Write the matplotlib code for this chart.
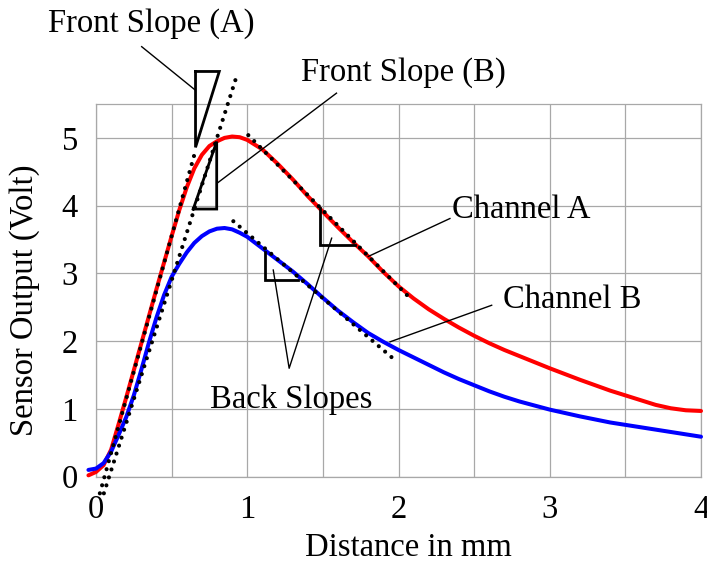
import matplotlib
matplotlib.use("Agg")
import matplotlib.pyplot as plt

plt.rcParams['font.family'] = ['Liberation Serif', 'DejaVu Serif']

# ---- data ----
x_red = [-0.05, 0.0, 0.05, 0.1, 0.15, 0.2, 0.25, 0.3, 0.35, 0.4, 0.45, 0.5, 0.55, 0.6,
         0.65, 0.7, 0.75, 0.8, 0.85, 0.9, 0.95, 1.0, 1.1, 1.2, 1.3, 1.4, 1.5, 1.6, 1.7,
         1.8, 1.9, 2.0, 2.1, 2.2, 2.3, 2.4, 2.5, 2.6, 2.7, 2.8, 2.9, 3.0, 3.2, 3.4, 3.6,
         3.7, 3.8, 3.9, 4.0]
y_red = [0.02, 0.07, 0.17, 0.40, 0.78, 1.17, 1.57, 1.97, 2.37, 2.77, 3.16, 3.55, 3.93, 4.27,
         4.55, 4.75, 4.88, 4.95, 5.00, 5.02, 5.01, 4.97, 4.83, 4.62, 4.39, 4.14, 3.91, 3.68, 3.46,
         3.25, 3.02, 2.81, 2.63, 2.47, 2.33, 2.20, 2.08, 1.97, 1.87, 1.78, 1.69, 1.60, 1.43, 1.27,
         1.13, 1.06, 1.01, 0.98, 0.97]

x_blue = [-0.05, 0.0, 0.05, 0.1, 0.15, 0.2, 0.25, 0.3, 0.35, 0.4, 0.45, 0.5, 0.55, 0.6,
          0.65, 0.7, 0.75, 0.8, 0.85, 0.9, 0.95, 1.0, 1.1, 1.2, 1.3, 1.4, 1.5, 1.6, 1.7,
          1.8, 1.9, 2.0, 2.1, 2.2, 2.3, 2.4, 2.5, 2.6, 2.7, 2.8, 2.9, 3.0, 3.2, 3.4, 3.6, 3.8, 4.0]
y_blue = [0.10, 0.12, 0.20, 0.37, 0.62, 0.88, 1.20, 1.58, 1.98, 2.35, 2.68, 2.95, 3.14, 3.31,
          3.45, 3.55, 3.62, 3.66, 3.67, 3.65, 3.60, 3.54, 3.37, 3.20, 3.03, 2.84, 2.64, 2.45, 2.28,
          2.12, 1.99, 1.87, 1.76, 1.65, 1.54, 1.44, 1.35, 1.26, 1.18, 1.11, 1.05, 0.99, 0.89, 0.80,
          0.73, 0.66, 0.59]

# tangent (dotted) lines: endpoints
front_a_x = [0.0255, 0.655]
front_a_y = [-0.245, 4.79]
front_b_x = [0.052, 0.934]
front_b_y = [-0.245, 5.94]
back_a_x = [1.007, 2.065]
back_a_y = [5.04, 2.66]
back_b_x = [0.908, 1.977]
back_b_y = [3.77, 1.72]

# slope triangles
tri_front_a_x = [0.658, 0.815, 0.658, 0.658]
tri_front_a_y = [5.98, 5.98, 4.86, 5.98]
tri_front_b_x = [0.643, 0.798, 0.798, 0.643]
tri_front_b_y = [3.95, 3.95, 4.945, 3.95]
tri_back_a_x = [1.481, 1.481, 1.712]
tri_back_a_y = [3.96, 3.42, 3.42]
tri_back_b_x = [1.117, 1.117, 1.338]
tri_back_b_y = [3.32, 2.91, 2.91]

x_ticks = [0, 1, 2, 3, 4]
y_ticks = [0, 1, 2, 3, 4, 5]

# ---- figure ----
fs = 23.5
fig = plt.figure(figsize=(7.07, 5.68), dpi=100)
ax = fig.add_axes([96/707, 1 - 476.7/568, 605/707, (476.7 - 104)/568])
ax.set_xlim(0, 4)
ax.set_ylim(0, 5.5)
ax.set_xticks(x_ticks)
ax.set_xticks([0.5, 1.5, 2.5, 3.5], minor=True)
ax.set_yticks(y_ticks)
ax.tick_params(which='both', length=0, labelsize=fs)
ax.tick_params(axis='x', pad=13)
ax.tick_params(axis='y', pad=13)
ax.grid(True, which='both', color='#a8a8a8', linewidth=0.9)
ax.grid(False, which='minor', axis='y')
for s in ax.spines.values():
    s.set_color('#a8a8a8')
    s.set_linewidth(0.9)
ax.set_axisbelow(True)

ax.plot(x_red, y_red, color='#ff0000', lw=2.9, clip_on=False, solid_capstyle='round',
        solid_joinstyle='round', zorder=3)
ax.plot(x_blue, y_blue, color='#0000ff', lw=2.9, clip_on=False, solid_capstyle='round',
        solid_joinstyle='round', zorder=3)

dot = dict(color='black', lw=3.0, linestyle=(0, (0.001, 2.0)), dash_capstyle='round',
           clip_on=False, zorder=4)
ax.plot(front_a_x, front_a_y, **dot)
ax.plot(front_b_x, front_b_y, **dot)
ax.plot(back_a_x, back_a_y, **dot)
ax.plot(back_b_x, back_b_y, **dot)

tri = dict(color='black', lw=2.0, clip_on=False, zorder=5, solid_joinstyle='miter')
ax.plot(tri_front_a_x, tri_front_a_y, **tri)
ax.plot(tri_front_b_x, tri_front_b_y, **tri)
ax.plot(tri_back_a_x, tri_back_a_y, **tri)
ax.plot(tri_back_b_x, tri_back_b_y, **tri)

lead = dict(color='black', lw=1.0, clip_on=False, zorder=5)
ax.plot([0.302, 0.655], [6.346, 5.708], **lead)
ax.plot([1.59, 0.80], [5.66, 4.33], **lead)
ax.plot([2.34, 1.80], [3.81, 3.25], **lead)
ax.plot([2.616, 1.944], [2.53, 1.99], **lead)
ax.plot([1.172, 1.277, 1.558], [3.05, 1.60, 3.52], **lead)

ax.text(0.364, 6.68, 'Front Slope (A)', fontsize=fs, ha='center', va='center', clip_on=False)
ax.text(2.03, 5.96, 'Front Slope (B)', fontsize=fs, ha='center', va='center', clip_on=False)
ax.text(2.81, 3.94, 'Channel A', fontsize=fs, ha='center', va='center', clip_on=False)
ax.text(3.15, 2.61, 'Channel B', fontsize=fs, ha='center', va='center', clip_on=False)
ax.text(1.289, 1.133, 'Back Slopes', fontsize=fs, ha='center', va='center', clip_on=False)

fig.text(408/707, 1 - 548/568, 'Distance in mm', fontsize=fs, ha='center', va='center')
fig.text(25/707, 1 - 300/568, 'Sensor Output (Volt)', fontsize=fs, ha='center', va='center',
         rotation=90)

fig.savefig('out.png', dpi=100)
